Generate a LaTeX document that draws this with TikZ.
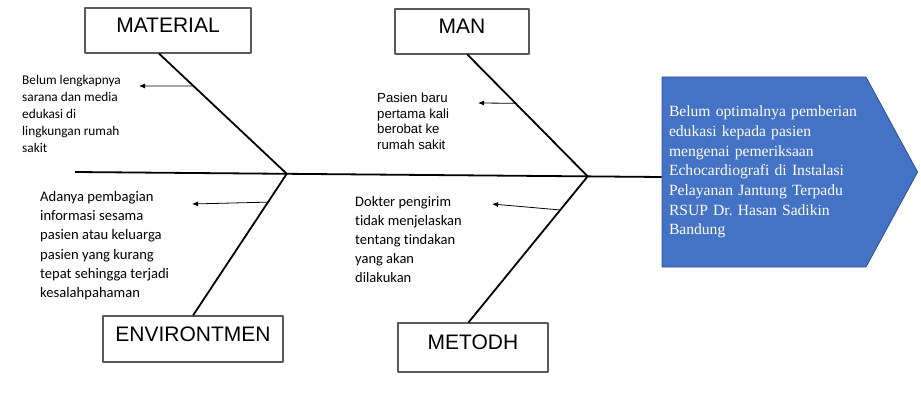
\documentclass[tikz,border=0pt]{standalone}
\usepackage{fontspec}
\usetikzlibrary{arrows.meta, positioning, calc, shapes.symbols}
\newfontfamily\arialfont{Liberation Sans}
\newfontfamily\calibrifont[Ligatures=NoCommon]{Carlito}
\newfontfamily\timesfont{Liberation Serif}
\definecolor{fbblue}{HTML}{4472C4}
\definecolor{fbedge}{HTML}{2F528F}
\definecolor{fbgrey}{HTML}{595959}

\begin{document}
\begin{tikzpicture}[x=1pt, y=-1pt, line join=round,
    catbox/.style={draw=fbgrey, line width=1.1pt, inner sep=0pt, text depth=10pt,
                   font=\arialfont\fontsize{21}{25}\selectfont},
    bone/.style={line width=1.8pt},
    cause/.style={anchor=north west, inner sep=0pt, align=left},
    twig/.style={-{Latex[length=6pt,width=5pt]}, line width=0.8pt},
    effect/.style={shape=signal, signal to=east, signal pointer angle=123,
                   fill=fbblue, draw=fbedge, line width=0.8pt, text=white,
                   text width=190, inner xsep=7, minimum height=190, align=left,
                   font=\timesfont\fontsize{15.6}{19.7}\selectfont}]
  \useasboundingbox (0,0) rectangle (921,404);
  % (1) effect head and spine
  \node[effect] (eff) at (764,172) {Belum optimalnya pemberian\\edukasi kepada pasien\\mengenai pemeriksaan\\Echocardiografi di Instalasi\\Pelayanan Jantung Terpadu\\RSUP Dr.\ Hasan Sadikin\\Bandung};
  \coordinate (tail) at (75,172);
  \coordinate (head) at ($(eff.west)+(0,5)$);
  \coordinate (j1) at ($(tail)!0.361!(head)$);
  \coordinate (j2) at ($(tail)!0.874!(head)$);
  \draw[bone] (tail) -- (head);
  % (2) category boxes
  \node[catbox, minimum width=166, minimum height=45] (mat) at (168,30.5) {MATERIAL};
  \node[catbox, minimum width=134, minimum height=45] (man) at (462,31.5) {MAN};
  \node[catbox, minimum width=180, minimum height=46] (env) at (193,339) {ENVIRONTMEN};
  \node[catbox, minimum width=150, minimum height=49] (met) at (473,347.5) {METODH};
  % bones run from the boxes into the spine
  \coordinate (b1) at ($(mat.south west)!0.446!(mat.south east)$);
  \coordinate (b2) at ($(man.south west)!0.54!(man.south east)$);
  \coordinate (b4) at ($(met.north west)!0.47!(met.north east)$);
  \draw[bone] (b1) -- (j1);
  \draw[bone] (b2) -- (j2);
  \draw[bone] (j1) -- (env.north);
  \draw[bone] (j2) -- (b4);
  % (3) causes
  \node[cause, font=\calibrifont\fontsize{13.3}{17}\selectfont] (matc) at (22,75)
    {Belum lengkapnya\\sarana dan media\\edukasi di\\lingkungan rumah\\sakit};
  \node[cause, font=\arialfont\fontsize{13.2}{15.6}\selectfont] (manc) at (377,93)
    {Pasien baru\\pertama kali\\berobat ke\\rumah sakit};
  \node[cause, font=\calibrifont\fontsize{14.6}{19.3}\selectfont] (envc) at (40,191)
    {Adanya pembagian\\informasi sesama\\pasien atau keluarga\\pasien yang kurang\\tepat sehingga terjadi\\kesalahpahaman};
  \node[cause, font=\calibrifont\fontsize{14.5}{19}\selectfont] (metc) at (355,196)
    {Dokter pengirim\\tidak menjelaskan\\tentang tindakan\\yang akan\\dilakukan};
  \coordinate (t1) at (139,86);
  \coordinate (t2) at (478,103);
  \coordinate (t3) at (192,204);
  \coordinate (t4) at (492,204);
  \draw[twig] ($(b1)!0.27!(j1)$) -- (t1);
  \draw[twig] ($(b2)!0.40!(j2)$) -- (t2);
  \draw[twig] ($(j1)!0.2!(env.north)$) -- (t3);
  \draw[twig] ($(j2)!0.23!(b4)$) -- (t4);
\end{tikzpicture}
\end{document}
